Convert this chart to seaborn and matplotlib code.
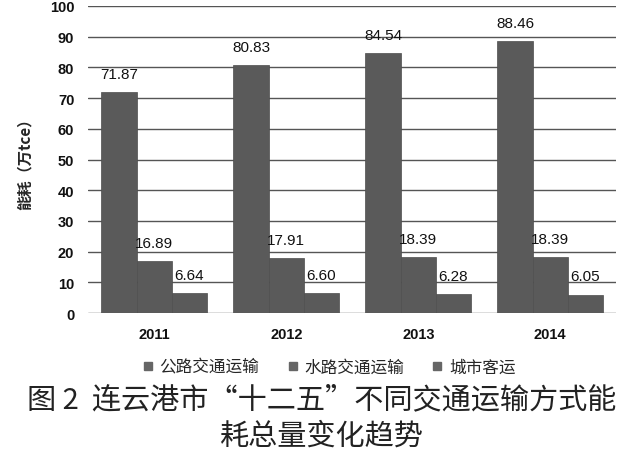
import pandas as pd
import matplotlib.pyplot as plt
import seaborn as sns

years = ['2011', '2012', '2013', '2014']
modes = ['公路交通运输', '水路交通运输', '城市客运']
road = [71.87, 80.83, 84.54, 88.46]
water = [16.89, 17.91, 18.39, 18.39]
city = [6.64, 6.60, 6.28, 6.05]
caption = '图 2  连云港市“十二五”不同交通运输方式能\n耗总量变化趋势'

df = pd.DataFrame({
    'year': years * 3,
    'mode': [modes[0]] * 4 + [modes[1]] * 4 + [modes[2]] * 4,
    'value': road + water + city,
})

sns.set_theme(style='white')
plt.rcParams['font.family'] = ['Noto Sans CJK SC', 'DejaVu Sans']

fig = plt.figure(figsize=(6.44, 4.6), dpi=100)
ax = fig.add_axes([0.137, 0.317, 0.82, 0.668])

bar_color = '#5a5a5a'
sns.barplot(data=df, x='year', y='value', hue='mode', order=years, hue_order=modes,
            palette=[bar_color] * 3, width=0.8, saturation=1, ax=ax, legend=False,
            edgecolor='#4d4d4d', linewidth=0.5, zorder=3)

for cont in ax.containers:
    ax.bar_label(cont, fmt='%.2f', padding=8, fontsize=11, color='#111111',
                 family='Liberation Sans', zorder=4)

ax.set_ylim(0, 100)
ax.set_yticks(range(0, 101, 10))
ax.set_xlim(-0.5, 3.5)
ax.yaxis.grid(True, color='#555555', linewidth=1, zorder=0)
ax.set_axisbelow(True)
for s in ax.spines.values():
    s.set_visible(False)
ax.tick_params(axis='both', length=0, labelsize=10.5, colors='#111111', pad=10)
for lab in ax.get_xticklabels() + ax.get_yticklabels():
    lab.set_fontweight('bold')
    lab.set_family('Liberation Sans')
ax.set_xlabel('')
ax.set_ylabel('能耗（万tce）', fontsize=11, fontweight='bold', labelpad=12)

handles = [plt.Line2D([], [], marker='s', linestyle='', color='#666666', markersize=6)
           for _ in modes]
fig.legend(handles, modes, loc='center', bbox_to_anchor=(0.51, 0.2), ncol=3,
           frameon=False, fontsize=12, handlelength=0.8, handletextpad=0.3,
           columnspacing=1.6)

fig.text(0.5, 0.09, caption, ha='center', va='center', fontsize=21,
         color='#222222', linespacing=1.3)

fig.savefig('out.png', dpi=100)
